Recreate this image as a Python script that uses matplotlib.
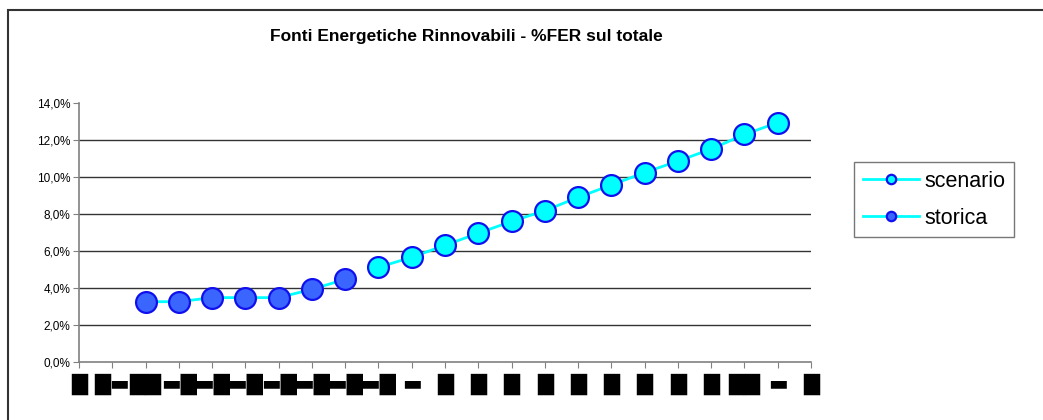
import numpy as np
import matplotlib
matplotlib.use('Agg')
import matplotlib.pyplot as plt
from matplotlib.ticker import FuncFormatter
from matplotlib.patches import Rectangle

# x labels come out as broken glyph boxes in the original
labels = ["█", "█▬", "██", "▬█", "▬█", "▬█", "▬█", "▬█", "▬█", "▬█", "▬", "█",
          "█", "█", "█", "█", "█", "█", "█", "█", "██", "▬", "█"]
storica = [np.nan, np.nan, 3.26, 3.26, 3.48, 3.48, 3.48, 3.93, 4.47] + [np.nan] * 14
scenario = [np.nan] * 9 + [5.12, 5.66, 6.31, 6.96, 7.60, 8.18, 8.90, 9.57, 10.24,
                           10.86, 11.51, 12.30, 12.94, np.nan]
yticks = [0, 2, 4, 6, 8, 10, 12, 14]

plt.rcParams['font.family'] = ['Liberation Sans', 'DejaVu Sans']

fig = plt.figure(figsize=(10.43, 4.2), dpi=100)
fig.patches.append(Rectangle((8 / 1043, -0.1), 1.2, 1.1 - 10 / 420,
                             transform=fig.transFigure, fill=False,
                             edgecolor='#333333', linewidth=1.5))

ax = fig.add_axes([79 / 1043, 58 / 420, 732 / 1043, 259 / 420])
x = np.arange(len(labels))

for v in yticks[1:-1]:
    ax.axhline(v, color='#333333', linewidth=1, zorder=1)

ax.plot(x, scenario, color='#00ffff', linewidth=2, marker='o', markersize=15,
        markerfacecolor='#00ffff', markeredgecolor='#1010ee', markeredgewidth=1.6,
        label='scenario', zorder=3)
ax.plot(x, storica, color='#00ffff', linewidth=2, marker='o', markersize=15,
        markerfacecolor='#3a66ff', markeredgecolor='#1010ee', markeredgewidth=1.6,
        label='storica', zorder=3)

ax.set_xlim(0, len(labels) - 1)
ax.set_ylim(0, 14)
ax.set_yticks(yticks)
ax.yaxis.set_major_formatter(FuncFormatter(lambda v, p: f"{v:.1f}%".replace('.', ',')))
ax.set_xticks(x)
ax.set_xticklabels(labels, fontsize=15, family=['DejaVu Sans'])

for s in ['top', 'right']:
    ax.spines[s].set_visible(False)
for s in ['left', 'bottom']:
    ax.spines[s].set_color('#808080')
    ax.spines[s].set_linewidth(1.2)
ax.tick_params(axis='y', length=4, color='#808080', labelsize=8.5, pad=2)
ax.tick_params(axis='x', length=4, color='#808080', pad=4)

fig.text(466 / 1043, 1 - 36 / 420, 'Fonti Energetiche Rinnovabili - %FER sul totale',
         ha='center', va='center', fontsize=12.5, fontweight='bold')

h, l = ax.get_legend_handles_labels()
leg = fig.legend(h, l, loc='upper left', bbox_to_anchor=(854 / 1043, 1 - 162 / 420),
                 fontsize=15.5, markerscale=0.45, frameon=True, fancybox=False,
                 edgecolor='#555555', handlelength=2.6, borderpad=0.4,
                 labelspacing=0.75, handletextpad=0.25, borderaxespad=0)
leg.get_frame().set_linewidth(1)

plt.savefig('out.png', dpi=100)
